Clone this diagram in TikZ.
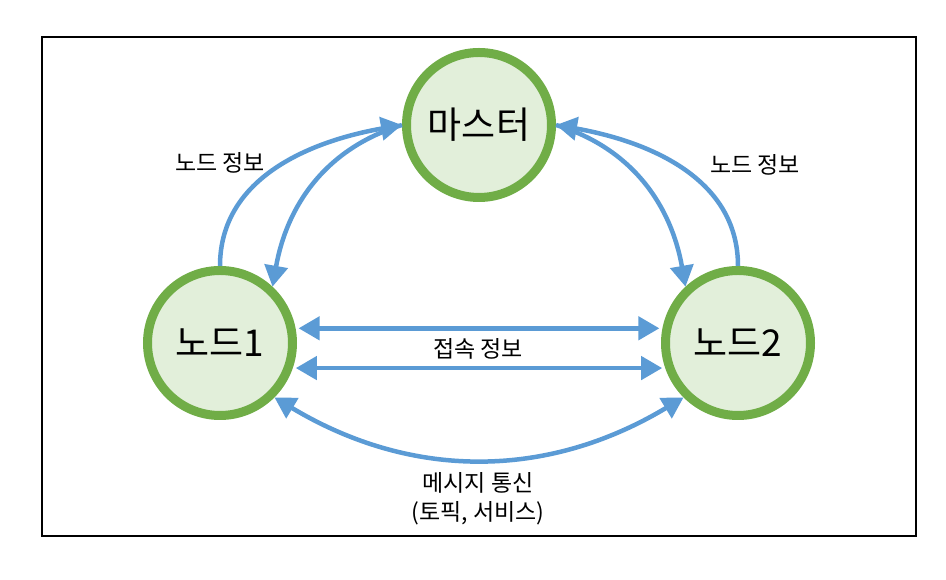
\documentclass[tikz,border=0pt]{standalone}
\usepackage{fontspec}
\setmainfont{Noto Sans CJK KR}
\usetikzlibrary{arrows.meta}
\definecolor{linkblue}{HTML}{5B9BD5}
\definecolor{rimgreen}{HTML}{70AD47}
\definecolor{fillgreen}{HTML}{E2EFDA}
\begin{document}
\begin{tikzpicture}[x=1pt,y=1pt,
				station/.style={circle,draw=rimgreen,fill=fillgreen,line width=9pt,
					minimum size=145pt,inner sep=0pt,font=\fontsize{37}{42}\selectfont},
				link/.style={draw=linkblue,line width=4.5pt,
					-{Triangle[length=21pt,width=23pt]}},
				both/.style={link,{Triangle[length=21pt,width=23pt]}-{Triangle[length=21pt,width=23pt]}},
				tag/.style={font=\fontsize{23}{28}\selectfont,inner sep=0pt}]
\useasboundingbox (0,0) rectangle (946,580);
\draw[line width=1.2pt] (42,44) rectangle (916,543);
% stations
\node[station] (master) at (479,455) {마스터};
\node[station] (node1) at (220,237) {노드1};
\node[station] (node2) at (738,237) {노드2};
% node <-> master
\draw[link] (node1.north) to[out=90,in=190] (master.west);
\draw[link] (master.west) to[out=197,in=80] (node1.47);
\draw[link] (node2.north) to[out=90,in=-10] (master.east);
\draw[link] (master.east) to[out=-17,in=100] (node2.133);
% node1 <-> node2
\draw[both,shorten <=3pt,shorten >=3pt] (node1.11) -- (node2.169);
\draw[both,shorten <=3pt,shorten >=3pt] (node1.-19) -- (node2.199);
\draw[both] (node1.-45) to[bend right=31] (node2.225);
% labels
\node[tag] (info1) at (220,417) {노드 정보};
\node[tag] (info2) at (755,415) {노드 정보};
\node[tag] (conn) at (478,231) {접속 정보};
\node[tag] (msg) at (478,97) {메시지 통신};
\node[tag] (kind) at (478,67) {(토픽, 서비스)};
\end{tikzpicture}
\end{document}
